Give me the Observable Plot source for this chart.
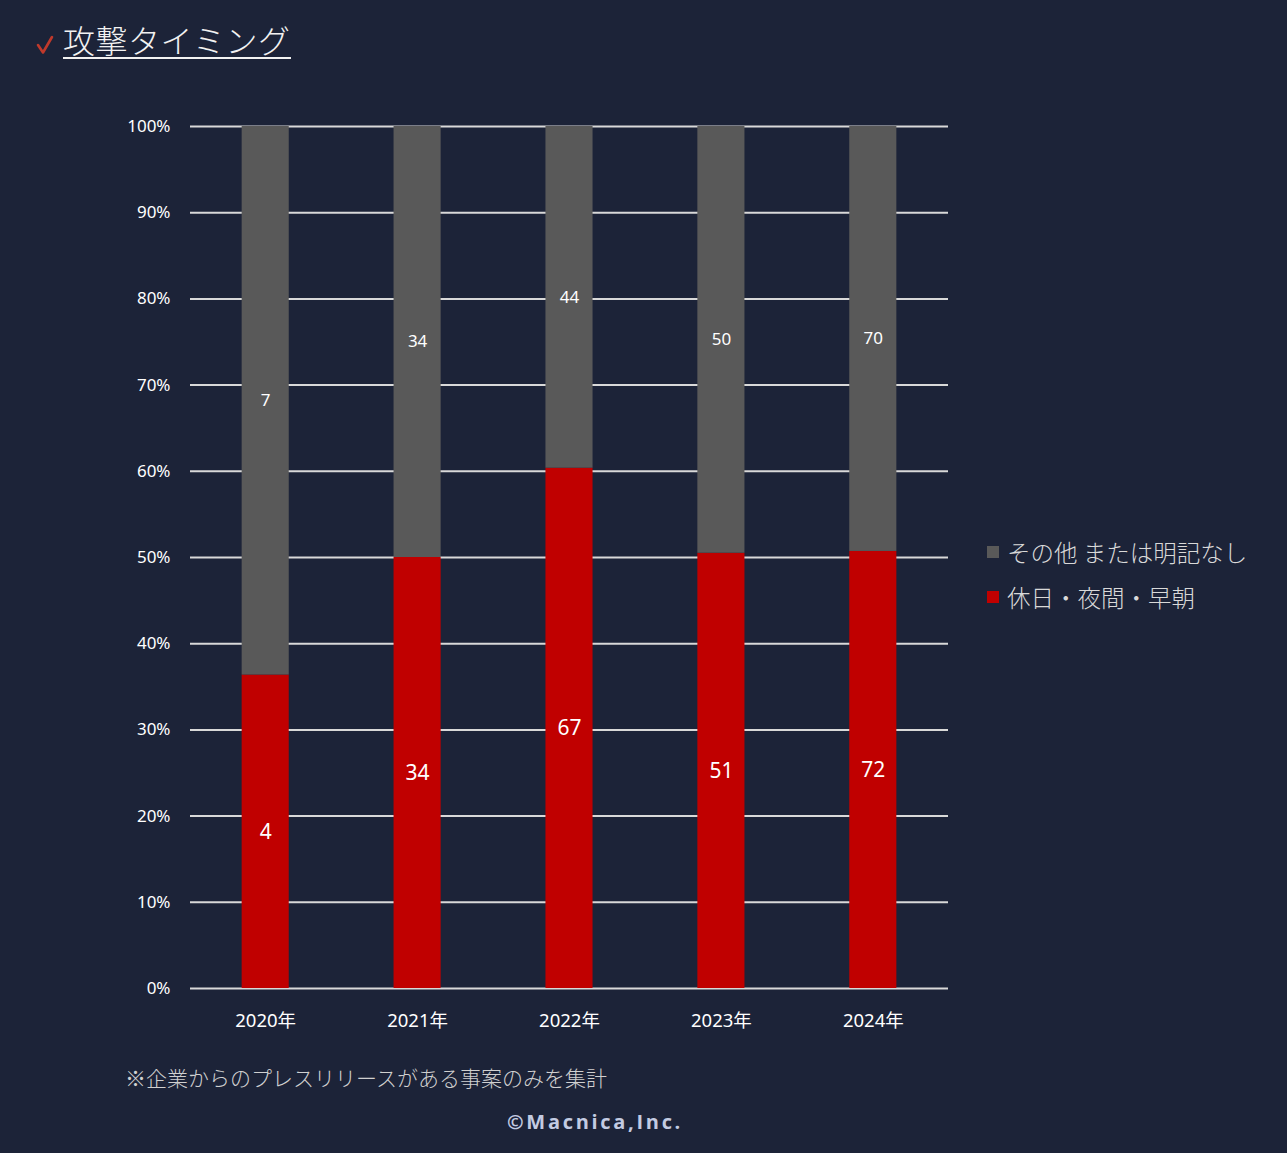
<!DOCTYPE html>
<html><head><meta charset="utf-8">
<script src="https://cdn.jsdelivr.net/npm/d3@7"></script>
<script src="https://cdn.jsdelivr.net/npm/@observablehq/plot@0.6"></script>
<style>
body{margin:0;background:#1c2338;width:1287px;height:1153px;overflow:hidden;position:relative;font-family:"Noto Sans CJK JP","Noto Sans",sans-serif;}
#chart{position:absolute;left:0;top:0;}
.chk{position:absolute;left:36px;top:35px;}
.title{position:absolute;left:63px;top:19px;color:#f2f2f2;font-size:32px;line-height:40px;font-weight:300;}
.title .t{border-bottom:2px solid #f2f2f2;display:inline-block;line-height:36px;letter-spacing:0.5px;}
.legend{position:absolute;left:987px;top:529px;color:#d9d9d9;font-size:23.5px;font-weight:300;}
.legend div{height:45px;line-height:34px;display:flex;align-items:center;}
.legend span.sw{display:inline-block;width:12px;height:12px;margin-right:8px;}
.note{position:absolute;left:125px;top:1062px;color:#d0d0d0;font-size:21px;font-weight:300;}
.copy{position:absolute;left:0;width:1190px;top:1108px;text-align:center;color:#c3cbe2;font-size:20px;font-weight:bold;letter-spacing:2.7px;font-family:"Open Sans","Noto Sans",sans-serif;}
</style></head>
<body>
<div id="chart"></div>
<svg class="chk" width="20" height="22" viewBox="0 0 20 22"><polyline points="2,10 7,17.5 16,2" fill="none" stroke="#c0392b" stroke-width="2.6" stroke-linecap="round" stroke-linejoin="round"/></svg>
<div class="title"><span class="t">攻撃タイミング</span></div>
<div class="legend">
  <div><span class="sw" style="background:#595959"></span>その他 または明記なし</div>
  <div><span class="sw" style="background:#c00000"></span>休日・夜間・早朝</div>
</div>
<div class="note">※企業からのプレスリリースがある事案のみを集計</div>
<div class="copy">©Macnica,Inc.</div>
<script>
const years = ["2020年","2021年","2022年","2023年","2024年"];
const offHours = [4, 34, 67, 51, 72];
const other = [7, 34, 44, 50, 70];
const seriesNames = ["休日・夜間・早朝","その他 または明記なし"];
const colors = ["#c00000","#595959"];

const rows = [];
years.forEach((y,i)=>{
  const tot = offHours[i]+other[i];
  rows.push({year:y, series:seriesNames[0], value:offHours[i], share:offHours[i]/tot, order:0});
  rows.push({year:y, series:seriesNames[1], value:other[i], share:other[i]/tot, order:1});
});

const chart = Plot.plot({
  width:1287, height:1153,
  marginTop:126, marginBottom:165, marginLeft:190, marginRight:339,
  style:{background:"transparent", color:"#ffffff", fontFamily:"'Noto Sans','Noto Sans CJK JP',sans-serif"},
  x:{domain:years, paddingInner:0.69, paddingOuter:0.34, round:false, label:null},
  y:{domain:[0,1], ticks:d3.range(0,1.0001,0.1), label:null, tickFormat:d=>Math.round(d*100)+"%"},
  color:{domain:seriesNames, range:colors},
  marks:[
    Plot.gridY({ticks:d3.range(0,1.0001,0.1), stroke:"#d9d9d9", strokeOpacity:1, strokeWidth:2}),
    Plot.barY(rows, Plot.stackY({x:"year", y:"share", fill:"series", order:"order"})),
    Plot.text(rows.filter(d=>d.order===0), Plot.stackY({x:"year", y:"share", order:"order", text:"value", fill:"white", fontSize:21})),
    Plot.text(rows, Plot.stackY({x:"year", y:"share", order:"order", text:d=>d.order===1?String(d.value):"", fill:"white", fontSize:17})),
    Plot.axisY({ticks:d3.range(0,1.0001,0.1), tickSize:0, tickPadding:20, fontSize:17, color:"#ffffff", tickFormat:d=>Math.round(d*100)+"%"}),
    Plot.axisX({tickSize:0, tickPadding:25, fontSize:18.5, color:"#ffffff"})
  ]
});
document.getElementById("chart").appendChild(chart);
</script>
</body></html>
